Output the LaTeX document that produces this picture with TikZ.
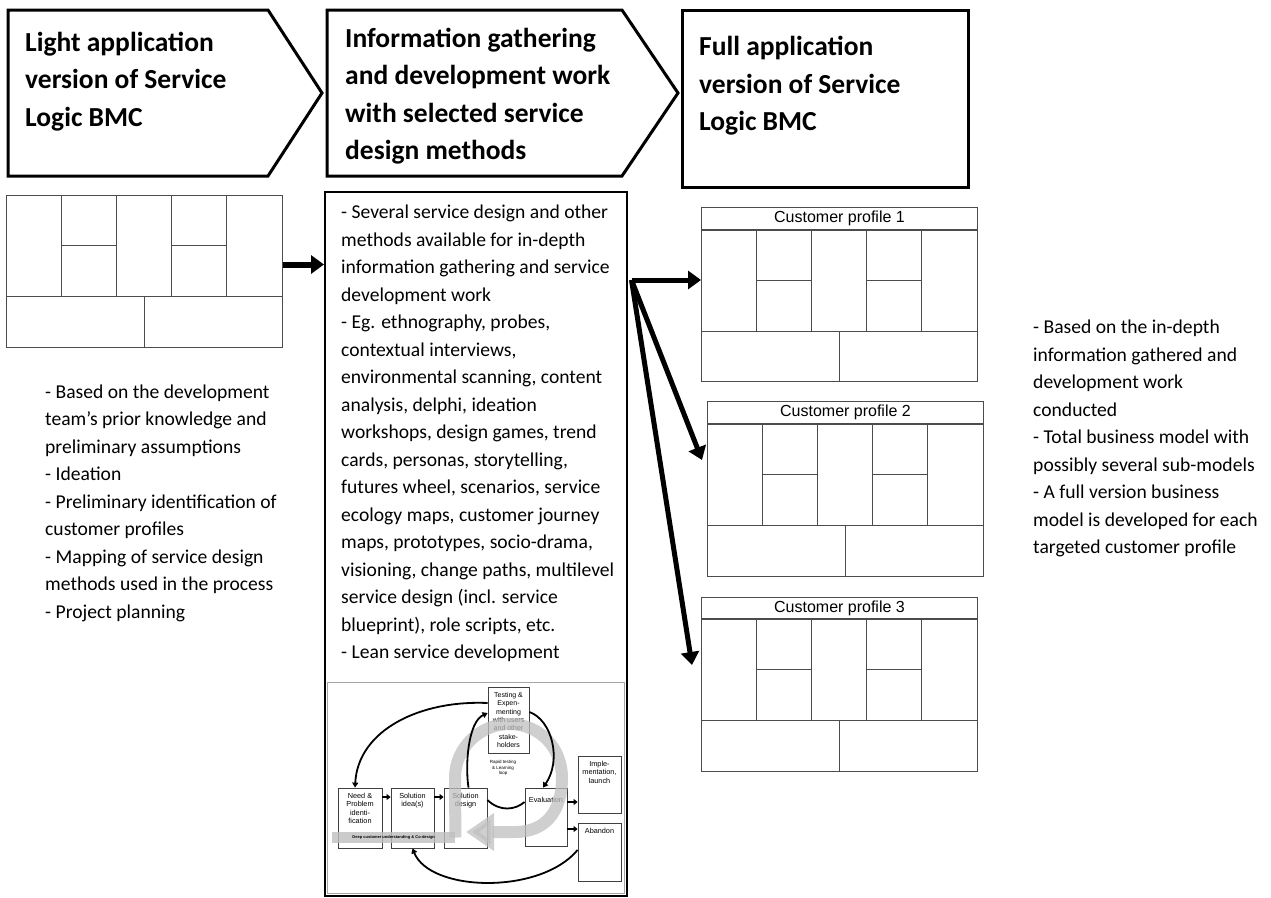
\documentclass[tikz,border=0pt]{standalone}
\usepackage{fontspec}
\setmainfont{Carlito}
\newfontfamily\arialfont{Liberation Sans}
\usetikzlibrary{arrows.meta, calc, positioning}

\tikzset{
  header/.style={draw, line width=3pt, line join=miter},
  headtext/.style={anchor=north west, inner sep=0pt, align=left,
    font=\bfseries\fontsize{27.5}{37.5}\selectfont},
  bodytext/.style={anchor=north west, inner sep=0pt, align=left,
    font=\fontsize{19.6}{27.5}\selectfont},
  canvas/.style={draw=black!70, line width=1pt, minimum width=276pt,
    anchor=north west, inner sep=0pt},
  cell/.style={draw=black!70, line width=1pt},
  cplabel/.style={canvas, minimum height=22pt, anchor=south west,
    font=\arialfont\fontsize{16}{16}\selectfont},
  bigarrow/.style={line width=5pt, -{Triangle[length=13pt,width=18pt]}},
  % small lean diagram
  minibox/.style={draw=black!75, line width=0.8pt, fill=white, inner sep=0pt,
    align=center, font=\arialfont\fontsize{7}{8.3}\selectfont},
  minilbl/.style={anchor=north, yshift=-5pt, inner sep=0pt, align=center,
    font=\arialfont\fontsize{7.3}{8.5}\selectfont},
  miniarc/.style={line width=1.8pt, -{Triangle[length=5pt,width=6pt]}},
  ministep/.style={line width=2.5pt, -{Triangle[length=4pt,width=6pt]}},
  grayband/.style={draw=black!25, line width=12pt, opacity=0.75},
}

\newcommand{\bmcgrid}[1]{%
  \begin{scope}[shift={(#1.north west)}]
    \foreach \cx in {55.2,110.4,165.6,220.8}
      \draw[cell] (\cx,0) -- (\cx,101);
    \draw[cell] (0,101) -- (276,101);
    \draw[cell] (55.2,50.5) -- (110.4,50.5) (165.6,50.5) -- (220.8,50.5);
    \draw[cell] (138,101) -- (138,152);
  \end{scope}}

\begin{document}
\begin{tikzpicture}[x=1pt, y=-1pt]
\useasboundingbox (0,0) rectangle (1271,897);

% ---- phase headers ----
\draw[header] (8,10) -- (268,10) -- (322,93) -- (268,176) -- (8,176) -- cycle;
\draw[header] (327,10) -- (622,10) -- (678,93) -- (622,176) -- (327,176) -- cycle;
\draw[header] (682,10) rectangle (968,187);
\node[headtext] (h1) at (25,31.5)  {Light application\\version of Service\\Logic BMC};
\node[headtext] (h2) at (345,27.5) {Information gathering\\and development work\\with selected service\\design methods};
\node[headtext] (h3) at (699,36) {Full application\\version of Service\\Logic BMC};

% ---- light canvas ----
\node[canvas, minimum height=152pt] (lcanvas) at (6,195) {};
\bmcgrid{lcanvas}

\node[bodytext] (ltext) at (45,384.5) {- Based on the development\\team’s prior knowledge and\\preliminary assumptions\\- Ideation\\- Preliminary identification of\\customer profiles\\- Mapping of service design\\methods used in the process\\- Project planning};

% ---- methods column ----
\node[draw, line width=1.5pt, minimum width=302pt, minimum height=704pt,
      anchor=north west, inner sep=0pt] (midbox) at (324,191) {};
\node[bodytext] (mtext) at (341,205) {- Several service design and other\\methods available for in-depth\\information gathering and service\\development work\\- Eg. ethnography, probes,\\contextual interviews,\\environmental scanning, content\\analysis, delphi, ideation\\workshops, design games, trend\\cards, personas, storytelling,\\futures wheel, scenarios, service\\ecology maps, customer journey\\maps, prototypes, socio-drama,\\visioning, change paths, multilevel\\service design (incl. service\\blueprint), role scripts, etc.\\- Lean service development};

% ---- lean service development loop ----
\node[draw=black!35, line width=0.6pt, minimum width=297pt, minimum height=211pt,
      anchor=north west, inner sep=0pt] (lean) at (327,682) {};
\node[minibox, minimum width=41pt, minimum height=66pt] (mtest) at (508.5,720)
  {Testing \&\\Expen-\\menting\\with users\\and other\\stake-\\holders};
\node[minibox, minimum width=44pt, minimum height=60pt,
      label={[minilbl]above:{Need \&\\Problem\\identi-\\fication}}] (mneed) at (360,818) {};
\node[minibox, minimum width=43pt, minimum height=60pt,
      label={[minilbl]above:{Solution\\idea(s)}}] (midea) at (412.5,818) {};
\node[minibox, minimum width=43pt, minimum height=60pt,
      label={[minilbl]above:{Solution\\design}}] (mdesign) at (465.5,818) {};
\node[minibox, minimum width=42pt, minimum height=58pt,
      label={[minilbl, yshift=-4pt]above:{Evaluation}}] (meval) at (546,817) {};
\node[minibox, minimum width=43pt, minimum height=57pt,
      label={[minilbl]above:{Imple-\\mentation,\\launch}}] (mimpl) at (599.5,784.5) {};
\node[minibox, minimum width=43pt, minimum height=58pt,
      label={[minilbl]above:{Abandon}}] (maband) at (599.5,852) {};
\node[inner sep=0pt, align=center, font=\arialfont\fontsize{4.5}{5.2}\selectfont]
  (mloop) at (503,768) {Rapid testing\\\& Learning\\loop};

% gray co-design band and u-turn
\node[fill=black!25, opacity=0.8, text opacity=1, minimum width=123pt, minimum height=11pt,
      inner sep=0pt, anchor=west, font=\arialfont\bfseries\fontsize{4}{4}\selectfont]
  (mdeep) at (332,837.5) {Deep customer understanding \& Co-design};
\draw[grayband, -{Triangle[length=28pt,width=36pt]}]
  (mdeep.east) -- (455,778) .. controls (455,746) and (482,724) .. (509,724)
  .. controls (540,724) and (562,748) .. (562,778)
  .. controls (562,812) and (545,832) .. (515,832) -- (466,832);

% loop connectors
\draw[miniarc] ([yshift=17pt]mtest.west) .. controls (420,700) and (358,730) .. ([xshift=-5pt]mneed.north);
\draw[miniarc] ([xshift=3pt]mdesign.north) .. controls (465,765) and (468,722) .. ([yshift=7pt]mtest.west);
\draw[miniarc] ([yshift=8pt]mtest.east) .. controls (552,720) and (562,760) .. ([xshift=-3pt]meval.north);
\draw[line width=1.8pt] ([yshift=18pt]mdesign.east) .. controls (500,812) and (515,810) .. ([yshift=15pt]meval.west);
\draw[miniarc] ([yshift=2pt]maband.west) .. controls (540,895) and (430,892) .. (midea.south);
\draw[ministep] ([yshift=21pt]mneed.east) -- ([yshift=21pt]mneed.east -| midea.west);
\draw[ministep] ([yshift=21pt]midea.east) -- ([yshift=21pt]midea.east -| mdesign.west);
\draw[ministep] ([yshift=15pt]meval.east) -- ([yshift=15pt]meval.east -| mimpl.west);
\draw[ministep] ([yshift=-12pt]meval.east) -- ([yshift=-12pt]meval.east -| maband.west);

% ---- full canvases ----
\node[canvas, minimum height=151pt] (cp1) at (701,230) {};
\node[cplabel] (cp1lbl) at (cp1.north west) {Customer profile 1};
\bmcgrid{cp1}
\node[canvas, minimum height=152pt] (cp2) at (707,424) {};
\node[cplabel] (cp2lbl) at (cp2.north west) {Customer profile 2};
\bmcgrid{cp2}
\node[canvas, minimum height=152pt] (cp3) at (701,619) {};
\node[cplabel, minimum height=21pt] (cp3lbl) at (cp3.north west) {Customer profile 3};
\bmcgrid{cp3}

\node[bodytext] (rtext) at (1033,320) {- Based on the in-depth\\information gathered and\\development work\\conducted\\- Total business model with\\possibly several sub-models\\- A full version business\\model is developed for each\\targeted customer profile};

% ---- connectors ----
\draw[bigarrow, line width=6pt] ([yshift=7pt]lcanvas.east) -- ([yshift=7pt]lcanvas.east -| midbox.west);
\coordinate (fan) at ($(midbox.north east)+(4,89)$);
\draw[bigarrow] (fan) -- (fan -| cp1.west);
\draw[bigarrow] (fan) -- ([shift={(-5,36)}]cp2.north west);
\draw[bigarrow] (fan) -- ([shift={(-9,46)}]cp3.north west);

\end{tikzpicture}
\end{document}
